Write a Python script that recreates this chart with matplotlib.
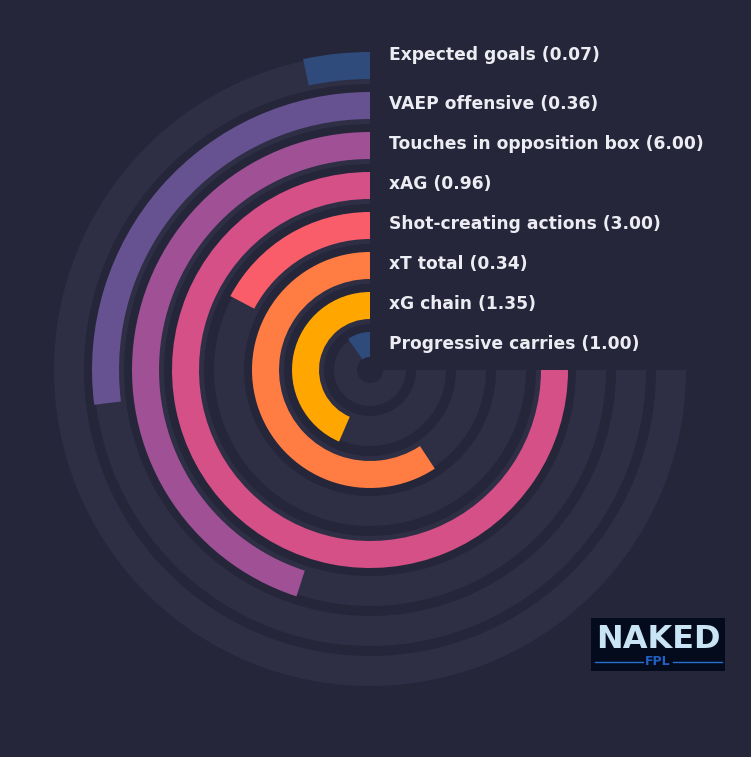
import numpy as np
import matplotlib
matplotlib.use("Agg")
import matplotlib.pyplot as plt

plt.rcParams["font.family"] = ["DejaVu Sans"]

# ---- data ----
metrics = ["Expected goals", "VAEP offensive", "Touches in opposition box", "xAG",
           "Shot-creating actions", "xT total", "xG chain", "Progressive carries"]
values = [0.07, 0.36, 6.00, 0.96, 3.00, 0.34, 1.35, 1.00]
percentiles = [4.5, 36, 60, 100, 23, 79, 58, 13]
colors = ["#2f4b7c", "#665191", "#a05195", "#d45087", "#f95d6a", "#ff7c43", "#ffa600", "#2f4b7c"]

BG = "#252639"
TRACK = "#2e2f45"
TXT = "#ececf2"

W, H = 751, 757
fig = plt.figure(figsize=(W / 100, H / 100), dpi=100, facecolor=BG)

cx, cy, R = 370, 370, 330
ax = fig.add_axes([(cx - R) / W, 1 - (cy + R) / H, 2 * R / W, 2 * R / H], projection="polar")
ax.set_theta_zero_location("N")
ax.set_theta_direction(1)
ax.set_rlim(0, R)
ax.set_axis_off()

full = 1.5 * np.pi
for i, (m, v, p, c) in enumerate(zip(metrics, values, percentiles, colors)):
    t_in = 286 - 40 * i
    b_in = 291 - 40 * i
    ax.bar(0, 30, width=full, bottom=t_in, align="edge", color=TRACK, linewidth=0)
    ax.bar(0, 27, width=full * p / 100, bottom=b_in, align="edge", color=c, linewidth=0)
    dy = 7.2 if i == 0 else 0.7
    ax.annotate(f"{m} ({v:.2f})", xy=(0, 305 - 40 * i), xytext=(14, dy),
                textcoords="offset points", ha="left", va="center",
                fontsize=12.3, fontweight="bold", color=TXT, annotation_clip=False)

# hub
ax.bar(0, 13, width=2 * np.pi, bottom=0, align="edge", color=BG, linewidth=0)

# logo
lx0, ly0, lx1, ly1 = 591, 618, 725, 671
lax = fig.add_axes([lx0 / W, 1 - ly1 / H, (lx1 - lx0) / W, (ly1 - ly0) / H])
lax.set_facecolor("#030b1c")
lax.set_xlim(0, 1)
lax.set_ylim(0, 1)
lax.set_xticks([])
lax.set_yticks([])
for s in lax.spines.values():
    s.set_visible(False)
lax.text(0.5, 0.60, "NAKED", ha="center", va="center", fontsize=23, fontweight="bold",
         color="#c9e4f5")
lax.text(0.5, 0.17, "FPL", ha="center", va="center", fontsize=9, fontweight="bold",
         color="#2161c4")
lax.plot([0.03, 0.39], [0.17, 0.17], color="#2a6fd0", lw=1)
lax.plot([0.61, 0.98], [0.17, 0.17], color="#2a6fd0", lw=1)

fig.savefig("out.png", dpi=100, facecolor=BG)
